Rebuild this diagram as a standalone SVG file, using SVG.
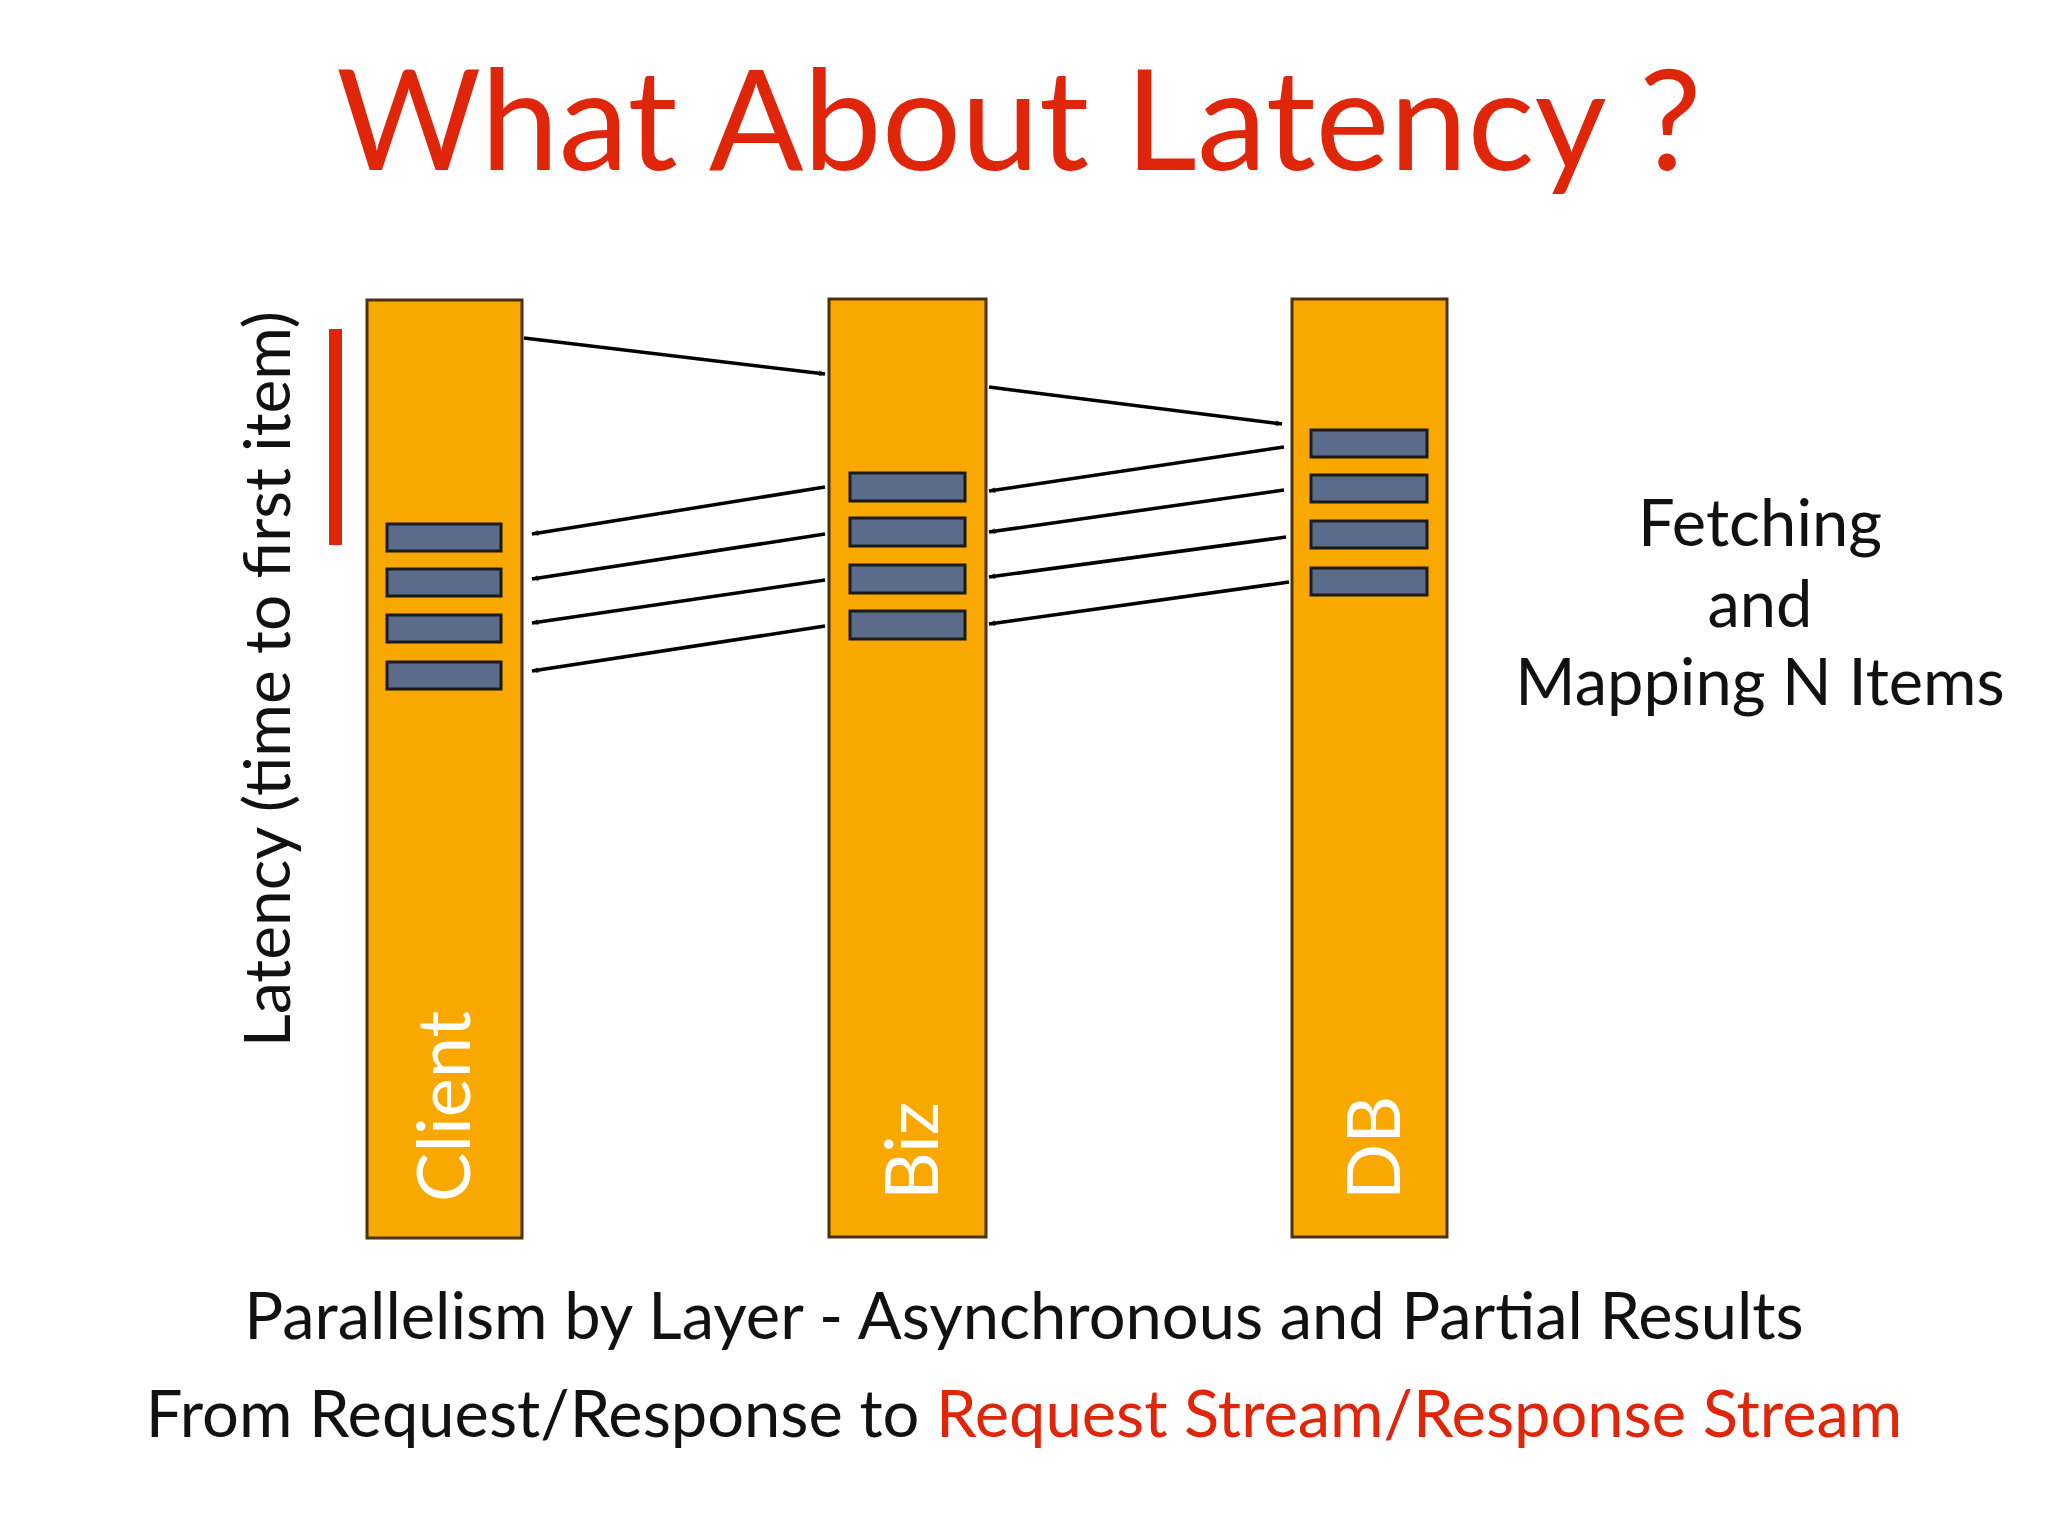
<svg xmlns="http://www.w3.org/2000/svg" width="2048" height="1536" viewBox="0 0 2048 1536">
<style>
text{font-family:"Lato","Open Sans",sans-serif}
.col{fill:#F9A800;stroke:#4a3210;stroke-width:3}
.box{fill:#5B6C8B;stroke:#1a1a1a;stroke-width:3}
.lbl{fill:#fff;font-size:74px}
.arr{stroke:#000;stroke-width:3.5;fill:none;marker-end:url(#ah)}
.t{font-size:65px;fill:#111}
.red{fill:#E0260A}
</style>
<defs><marker id="ah" viewBox="0 0 12 10" refX="11" refY="5" markerWidth="7" markerHeight="6" orient="auto" markerUnits="userSpaceOnUse" ><path d="M0,0 L12,5 L0,10 L3,5 Z" fill="#000"/></marker></defs>
<rect width="2048" height="1536" fill="#fff"/>
<text x="1019" y="170" text-anchor="middle" font-size="140" class="red">What About Latency ?</text>
<rect x="329" y="329" width="13" height="216" fill="#E0260A"/>
<text transform="translate(290,679) rotate(-90)" text-anchor="middle" font-size="64" fill="#111">Latency (time to first item)</text>
<g id="client"><rect class="col" x="367" y="300" width="155" height="938"/>
<rect class="box" x="387" y="524" width="114" height="27"/><rect class="box" x="387" y="569" width="114" height="27"/><rect class="box" x="387" y="615" width="114" height="27"/><rect class="box" x="387" y="662" width="114" height="27"/>
<text class="lbl" transform="translate(470,1202) rotate(-90)">Client</text></g>
<g id="biz"><rect class="col" x="829" y="299" width="157" height="938"/>
<rect class="box" x="850" y="473" width="115" height="28"/><rect class="box" x="850" y="518" width="115" height="28"/><rect class="box" x="850" y="565" width="115" height="28"/><rect class="box" x="850" y="611" width="115" height="28"/>
<text class="lbl" transform="translate(938,1200) rotate(-90)">Biz</text></g>
<g id="db"><rect class="col" x="1292" y="299" width="155" height="938" stroke="#111"/>
<rect class="box" x="1311" y="430" width="116" height="27"/><rect class="box" x="1311" y="475" width="116" height="27"/><rect class="box" x="1311" y="521" width="116" height="27"/><rect class="box" x="1311" y="568" width="116" height="27"/>
<text class="lbl" transform="translate(1400,1200) rotate(-90)">DB</text></g>
<g id="connectors">
<line class="arr" x1="524" y1="338" x2="825" y2="374"/>
<line class="arr" x1="989" y1="387" x2="1282" y2="424"/>
<line class="arr" x1="1284" y1="447" x2="989" y2="491"/>
<line class="arr" x1="1284" y1="490" x2="989" y2="532"/>
<line class="arr" x1="1286" y1="537" x2="989" y2="577"/>
<line class="arr" x1="1289" y1="582" x2="989" y2="624"/>
<line class="arr" x1="825" y1="487" x2="532" y2="534"/>
<line class="arr" x1="825" y1="534" x2="532" y2="579"/>
<line class="arr" x1="825" y1="580" x2="532" y2="623"/>
<line class="arr" x1="825" y1="626" x2="532" y2="671"/>
</g>
<text class="t" x="1760" y="546" text-anchor="middle">Fetching</text>
<text class="t" x="1760" y="627" text-anchor="middle">and</text>
<text class="t" x="1760" y="705" text-anchor="middle">Mapping N Items</text>
<text class="t" x="1024" y="1339" text-anchor="middle">Parallelism by Layer - Asynchronous and Partial Results</text>
<text class="t" x="1024" y="1437" text-anchor="middle">From Request/Response to <tspan class="red">Request Stream/Response Stream</tspan></text>
</svg>
